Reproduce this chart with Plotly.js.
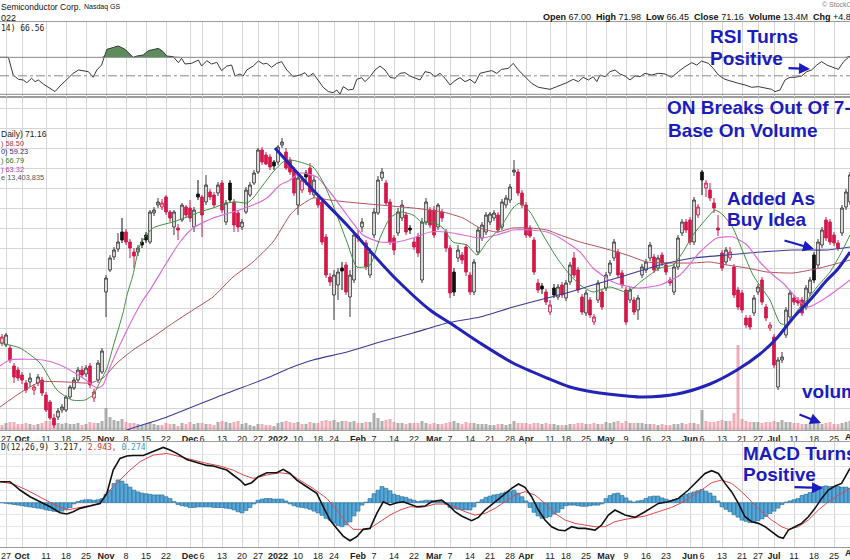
<!DOCTYPE html>
<html>
<head>
<meta charset="utf-8">
<script src="https://cdn.plot.ly/plotly-3.0.1.min.js"></script>
<style>
html,body{margin:0;padding:0;background:#fff;}
#chart{width:850px;height:560px;}
</style>
</head>
<body>
<div id="chart"></div>
<script>
// ---------------- DATA (trading-day index 0 = Mon 27 Sep 2021) ----------------
const FIRST_DAY = -2;

const openP = [
50.6,50.5,50.3,50.0,48.2,47.8,47.3,46.5,46.6,45.8,
46.5,46.8,45.3,44.6,43.0,43.1,43.8,43.8,45.1,46.0,
46.8,47.8,47.4,48.2,45.0,46.8,47.6,55.6,57.8,59.1,
59.9,61.6,61.6,60.6,59.6,59.6,60.6,61.3,60.6,63.5,
64.3,64.1,65.1,63.6,62.1,62.0,62.8,64.1,64.0,62.1,
65.4,65.1,64.6,65.6,65.3,65.5,66.5,62.6,66.5,64.6,
63.5,62.1,63.6,65.3,66.5,67.6,69.8,69.3,69.1,68.6,
68.6,70.3,69.6,68.8,67.8,64.3,65.8,67.5,68.0,65.3,
65.0,64.6,61.1,57.1,55.3,56.3,58.0,58.3,55.1,56.8,
61.0,62.1,60.5,57.3,61.3,63.5,67.0,66.5,64.6,61.0,
61.5,63.0,63.3,62.0,60.6,61.1,56.8,62.6,63.8,63.8,
62.1,63.6,61.6,60.0,57.6,59.0,59.3,60.1,57.3,55.6,
59.6,61.0,61.6,62.6,63.0,63.3,62.1,64.3,64.8,67.6,
67.6,65.5,64.3,62.0,60.8,56.5,56.2,55.6,53.6,56.0,
55.1,56.3,55.0,56.6,59.0,57.8,55.1,53.5,54.8,52.6,
54.8,55.6,56.0,57.5,59.0,59.6,57.5,55.8,54.8,54.8,
53.8,57.3,57.8,59.0,59.1,58.0,59.3,58.3,56.8,55.6,
58.1,61.5,62.6,62.8,60.6,63.3,67.6,66.0,65.8,64.5,
62.0,59.5,58.6,59.0,58.1,55.8,55.5,53.0,53.0,53.5,
55.6,56.8,54.1,52.0,51.1,46.1,48.8,51.3,53.1,55.0,
54.8,54.8,54.1,55.5,59.3,58.3,60.3,62.8,62.6,61.3,
60.5,61.5,64.1,64.6];
const highP = [
51.6,51.4,51.5,50.3,48.5,48.1,47.6,46.8,47.5,46.4,
47.4,47.1,45.6,44.8,43.4,44.0,44.4,45.3,46.3,47.1,
48.1,48.2,48.3,48.5,45.9,48.8,50.0,57.3,59.3,60.1,
61.5,63.0,61.9,60.9,60.0,60.3,61.0,61.6,63.8,64.1,
65.0,64.9,65.3,63.8,63.8,62.4,64.5,64.3,64.8,64.1,
66.8,65.3,67.3,65.9,65.6,66.6,66.8,64.8,66.8,64.9,
63.8,62.9,66.1,66.6,67.8,70.0,70.1,69.6,69.4,68.8,
70.3,71.0,70.0,69.1,68.1,67.3,67.2,67.8,68.5,67.2,
65.3,64.9,61.4,57.5,57.8,58.0,58.6,58.6,57.8,61.6,
61.8,63.0,60.8,60.0,64.0,67.2,68.0,66.8,64.9,61.3,
64.0,64.8,63.6,62.3,61.0,61.5,63.0,65.0,64.1,64.2,
64.5,63.9,61.9,60.3,58.0,60.3,59.6,60.4,57.6,58.9,
62.1,62.6,63.6,63.6,63.8,63.6,64.9,65.3,66.4,68.8,
67.9,65.8,64.6,62.3,61.1,56.9,56.5,55.9,54.8,56.4,
56.4,56.6,56.8,58.6,59.6,58.1,55.4,55.8,55.1,53.4,
56.8,55.9,57.6,58.8,60.9,59.9,57.8,56.1,56.1,55.1,
55.3,58.4,58.9,60.6,59.4,59.3,59.6,58.6,57.1,58.4,
61.3,62.9,62.9,63.1,65.1,64.4,67.8,66.8,66.5,65.0,
63.3,59.8,60.1,60.1,58.4,56.1,55.8,53.3,53.3,55.3,
56.4,57.1,54.4,52.6,51.4,49.1,49.6,54.1,55.8,55.3,
55.1,55.1,56.3,57.1,59.6,60.9,62.1,63.1,62.9,61.6,
60.8,64.3,65.9,67.6];
const lowP = [
50.3,50.2,50.1,48.5,46.5,46.7,46.4,45.5,46.1,45.3,
46.2,45.2,43.6,42.8,42.0,42.8,43.5,43.6,44.9,45.8,
46.6,47.0,47.1,46.0,44.6,46.5,47.4,53.1,57.6,58.8,
59.6,60.5,60.3,59.0,58.0,59.2,60.0,60.5,60.4,63.2,
64.0,63.8,63.3,62.6,61.3,60.8,62.6,63.0,62.6,61.6,
64.8,61.1,64.3,64.8,64.0,65.2,63.5,62.3,64.5,61.6,
61.6,61.8,63.4,65.1,66.3,67.4,68.3,68.3,67.8,67.8,
68.3,70.0,67.8,67.3,65.2,63.3,65.5,66.3,65.3,65.0,
64.0,60.3,57.0,56.2,52.8,54.8,55.8,55.3,53.1,56.5,
60.6,61.6,57.8,57.0,61.0,63.3,66.7,64.2,60.3,59.3,
61.2,62.7,61.3,61.4,59.8,59.1,56.5,62.3,62.0,61.0,
61.8,62.6,59.6,55.0,55.2,58.6,58.4,57.2,55.3,55.3,
59.3,60.7,61.3,62.3,62.7,61.5,61.8,64.0,64.5,67.2,
65.2,64.0,61.0,61.0,57.3,55.5,55.4,54.3,53.3,55.0,
54.8,55.0,54.7,56.3,57.0,55.5,53.3,53.2,53.0,52.3,
54.5,53.8,55.7,57.2,58.7,57.0,56.0,52.3,54.5,53.3,
52.8,57.0,57.5,58.7,57.5,57.7,58.2,57.3,56.2,55.3,
57.8,61.2,61.5,60.3,60.3,63.0,65.3,65.1,64.7,63.5,
61.2,57.7,58.3,58.7,55.0,53.8,53.5,52.0,51.8,53.2,
55.3,54.3,52.7,51.7,48.0,45.8,48.5,51.0,52.8,54.3,
54.2,53.2,53.8,55.2,56.5,58.0,60.0,60.7,60.3,60.2,
59.7,61.2,63.8,64.3];
const closeP = [
51.3,51.1,51.3,48.8,47.1,47.0,46.8,45.8,47.0,46.1,
47.1,45.5,43.8,43.0,42.3,43.7,44.1,45.1,46.1,46.8,
47.8,47.3,48.0,46.3,45.6,48.5,49.7,57.0,59.0,59.8,
60.6,60.8,60.6,60.0,59.2,60.0,60.3,60.8,63.6,63.8,
64.6,64.5,63.6,63.0,63.6,61.8,64.3,63.3,63.0,63.8,
65.1,63.3,66.3,65.1,64.3,66.3,63.8,64.5,64.8,62.3,
62.1,62.6,65.8,66.3,67.5,69.8,68.6,68.4,68.1,68.2,
70.1,70.6,68.0,67.6,65.5,67.0,66.8,67.1,65.6,66.8,
64.3,60.6,57.3,56.6,57.3,57.6,57.7,55.6,57.3,61.3,
61.2,62.6,58.1,59.6,63.6,66.8,67.6,64.5,60.6,59.8,
63.6,64.3,61.6,61.8,60.1,59.5,62.6,64.6,62.3,61.3,
64.3,63.0,60.0,55.5,55.6,59.8,58.8,57.6,55.6,58.6,
61.8,62.3,63.3,63.4,63.5,61.8,64.6,65.0,66.1,67.8,
65.5,64.3,61.3,61.2,57.6,55.8,55.9,54.6,54.3,55.3,
56.1,55.3,56.5,58.3,57.3,55.8,53.6,55.5,53.3,53.1,
56.5,54.1,57.3,58.5,60.6,57.3,56.3,52.6,55.8,53.6,
55.0,58.1,58.6,60.3,57.8,59.0,58.5,57.6,56.5,58.1,
61.0,62.6,61.8,60.6,64.8,64.1,66.8,66.5,65.0,64.0,
61.8,58.0,59.8,59.6,55.3,54.1,53.8,52.3,52.1,55.0,
56.1,54.6,53.0,52.3,48.3,48.8,49.1,53.8,55.5,54.6,
54.5,53.5,56.0,56.8,56.8,60.6,61.8,61.0,60.6,60.5,
60.0,64.0,65.6,67.3];
// volume, millions of shares
const volume = [
6,5,7,8,8,6,6, 7,6,5,6,7, 9,9,10,7,6, 7,6,6,7,5, 6,8,7,7,9,
22,13,10,9,11, 8,7,7,6,5, 6,8,6,5,5, 7,6,6,4, 7,6,8,6,7,
7,6,6,5,8, 9,8,7,8,9, 6,7,5,4, 6,6,5,5,4, 7,8,9,8,7,
8,6,6,8,7, 7,9,10,9, 10,8,9,9,8, 9,7,7,8,8, 17,12,9,10,11,
8,7,7,6,7, 7,7,9,7, 6,7,6,6,7, 8,9,7,6,8, 7,7,6,6,6,
5,5,6,6,5, 6,9,7,7,7, 6,7,7,6,7, 6,6,5,5, 5,6,6,7,7,
6,6,7,6,6, 8,7,8,9,7, 9,7,7,7,7, 6,6,6,5,6, 5,5,6,6,7,
6,7,7,6, 20,9,8,8,9, 10,9,9,17,85, 11,9,8,8, 8,7,8,8,9,
8,10,8,8, 7,7,6,6,6, 7,7,6,7,8, 6,6,7,8,9];
// MACD histogram (12,26,9), one value per day
const macdHist = [
0,0,-0.05,-0.1,-0.15,-0.2,-0.25,-0.3,-0.35,-0.4,
-0.45,-0.5,-0.6,-0.65,-0.72,-0.75,-0.7,-0.55,-0.4,-0.1,
0.1,0.2,0.25,0.25,0.2,0.25,0.35,0.7,1.05,1.6,
1.9,1.8,1.55,1.3,1.05,0.9,0.8,0.75,0.7,0.65,
0.65,0.65,0.5,0.35,0.1,-0.15,-0.25,-0.3,-0.4,-0.4,
-0.35,-0.35,-0.35,-0.35,-0.4,-0.4,-0.4,-0.45,-0.5,-0.6,
-0.75,-0.85,-0.65,-0.4,-0.1,0.2,0.3,0.35,0.35,0.3,
0.3,0.3,0.15,-0.1,-0.25,-0.35,-0.4,-0.45,-0.55,-0.7,
-0.85,-1.05,-1.3,-1.45,-1.7,-1.9,-2.0,-1.85,-1.6,-1.1,
-0.7,-0.2,0.05,0.35,0.75,1.05,1.35,1.2,1.0,0.7,
0.6,0.5,0.45,0.3,0.2,0.1,0.15,0.2,0.2,0.15,
0.2,0.15,-0.1,-0.4,-0.5,-0.55,-0.6,-0.6,-0.6,-0.35,
0.05,0.25,0.45,0.55,0.65,0.7,0.8,0.9,0.95,1.05,
0.8,0.5,0.15,-0.4,-0.8,-1.1,-1.3,-1.25,-1.15,-0.95,
-0.8,-0.5,-0.25,-0.2,-0.2,-0.25,-0.3,-0.3,-0.25,-0.2,
-0.2,-0.1,0.35,0.6,0.75,0.8,0.6,0.4,0.15,0.05,
0.15,0.2,0.35,0.5,0.55,0.55,0.4,0.3,0.2,0.25,
0.35,0.55,0.7,0.8,0.9,1.0,1.1,0.95,0.8,0.55,
0.15,-0.35,-0.55,-0.75,-1.0,-1.2,-1.45,-1.55,-1.65,-1.6,
-1.5,-1.35,-1.15,-0.9,-0.7,-0.45,-0.15,0.05,0.15,0.25,
0.35,0.6,0.7,0.85,0.95,1.1,1.35,1.4,1.35,1.35,
1.35,1.3,1.3,1.2];

// lines: [day index, value]
const maShort = [[-1.5,50.5],[3.5,50.0],[8.5,48.5],[12.75,45.8],[16.5,44.8],[19.75,44.8],[21.75,45.3],[23.5,46.6],[25.25,48.0],[26.75,50.1],[29.25,53.5],[30.25,55.3],[31.75,57.3],[33.5,60.3],[36.75,62.0],[41.75,62.6],[45.25,63.1],[48.5,63.6],[51.75,64.0],[55.25,64.5],[57.75,64.6],[60.25,64.5],[61.75,65.0],[64.25,66.3],[66.75,67.6],[69.25,68.6],[71,68.8],[73.5,68.6],[76.75,68.1],[79.25,66.6],[81.75,64.3],[85.25,60.6],[87.75,58.1],[91,58.3],[93.5,61.0],[96,63.0],[98.5,63.6],[101.75,63.3],[104.25,62.5],[106.75,62.6],[109.25,62.0],[111.75,60.6],[115.25,60.3],[117.75,59.3],[120.25,60.6],[123.5,62.0],[126.75,64.0],[128.5,64.5],[131,63.6],[134.25,61.3],[137.75,59.0],[141,57.3],[143.5,56.3],[146.75,55.6],[151,56.1],[155.25,55.6],[159.25,56.8],[163.5,58.0],[166.75,58.3],[169.25,59.6],[171.75,61.3],[175.25,63.0],[177.25,63.8],[179.25,63.3],[181.75,62.0],[184.25,59.6],[186.75,57.3],[189.25,55.8],[191,54.8],[193.5,52.5],[195.25,52.3],[196.75,53.1],[198.5,54.1],[200.25,54.8],[202.75,56.1],[206,57.6],[208.5,59.3],[211,61.3]];
const maMid = [[-1.5,48.2],[1,48.8],[9.25,48.8],[13.5,48.3],[19.25,47.0],[22.75,46.0],[24.25,46.3],[26,48.1],[30.25,51.8],[34.25,54.8],[36,55.8],[40.25,58.6],[43.5,60.6],[46.75,62.0],[51.75,63.0],[56.75,63.6],[61.75,64.3],[65.25,65.0],[68.5,66.3],[71,66.8],[73.5,67.5],[77.75,67.1],[81,65.6],[85.25,63.3],[89.25,61.3],[93.5,60.6],[97.75,60.6],[101.75,61.0],[106,61.6],[110.25,61.6],[114.25,61.3],[118.5,61.0],[122.75,61.3],[126.75,61.8],[131,61.8],[135.25,61.6],[138.5,61.0],[143.5,59.6],[146.75,58.0],[151.75,56.6],[157.75,56.0],[163.5,56.3],[168.5,57.3],[173.5,59.6],[177.75,61.0],[181.75,61.1],[185.25,60.3],[188.5,58.6],[191.75,57.3],[194.25,56.5],[200.25,54.1],[205.25,55.1],[211,56.8]];
const maLong = [[-1.5,44.1],[3.5,45.5],[8.5,46.6],[15.25,46.6],[21,46.5],[24.25,47.0],[27.75,48.5],[31.75,49.8],[36.75,51.1],[41.75,52.5],[46.75,53.8],[51.75,55.1],[56.75,57.1],[61.75,58.6],[66.75,60.6],[71,63.3],[72.75,64.0],[76.75,65.0],[81,64.8],[85.25,64.6],[93.5,64.3],[101.75,64.0],[106,63.8],[110.25,63.5],[114.25,63.0],[118.5,62.0],[122.75,61.6],[126.75,62.0],[131,62.0],[135.25,61.8],[138.5,61.3],[143.5,60.6],[149.25,60.0],[155.25,59.3],[160.25,58.6],[165.25,58.5],[171.75,58.5],[176,58.6],[180.25,58.3],[185.25,58.0],[190.25,57.6],[196.75,57.5],[203.5,58.0],[211,58.8]];
const ma200 = [[26,41.1],[30.25,41.8],[40.25,43.1],[52.75,45.1],[65.25,47.0],[71,48.0],[76.75,48.8],[85.25,49.6],[93.5,50.6],[101.75,51.5],[110.25,52.5],[118.5,53.1],[126.75,54.1],[135.25,55.0],[141,55.6],[146.75,56.3],[155.25,57.3],[163.5,58.3],[171.75,59.0],[180.25,59.3],[188.5,59.6],[196.75,59.8],[205.25,59.8],[211,60.1]];
const cupPts = [[67.25,70.0],[76.75,65.8],[85.25,62.3],[93.5,58.6],[97.75,56.8],[106,53.8],[111.75,52.3],[118.5,50.5],[126.75,48.5],[135.25,47.0],[141,46.1],[146.75,45.6],[155.25,45.2],[159.25,45.1],[167.75,45.4],[176,46.4],[182.75,47.8],[188.5,49.4],[192.75,51.0],[196.75,53.0],[201,54.8],[205.25,56.8],[207.75,57.8],[211,59.6]];
const rsiPts = [[-1.5,70.0],[0.6,70.0],[1.8,50.9],[3.1,46.2],[4.3,45.5],[5.2,42.6],[6.4,47.3],[7.25,43.7],[8.1,45.5],[9.3,41.2],[11,36.5],[12.25,32.9],[13.5,39.0],[15.2,45.5],[16.8,52.7],[18.1,56.3],[19.75,55.2],[20.6,54.5],[21.8,48.4],[22.7,56.3],[23.9,61.7],[24.75,72.5],[25.2,78.6],[28.1,82.3],[29.75,78.6],[31.8,70.0],[32.7,71.4],[34.3,72.5],[35.6,77.2],[38.1,79.7],[39.3,76.1],[40.2,71.4],[41.8,70.7],[43.1,64.2],[43.9,68.9],[44.75,62.8],[46.4,63.5],[48.1,67.1],[48.9,60.6],[50.2,66.4],[51.4,62.8],[52.7,64.6],[53.9,55.6],[55.2,60.6],[56.4,61.7],[57.25,49.8],[58.5,52.0],[59.3,49.8],[60.2,56.3],[61.8,60.6],[63.1,66.0],[64.3,62.8],[65.2,63.5],[66.4,59.2],[67.7,63.5],[68.9,65.3],[70.2,56.3],[71.8,49.1],[73.5,50.9],[74.75,53.4],[75.6,49.1],[76.8,52.7],[78.1,45.5],[79.3,37.6],[80.6,32.9],[81.8,31.8],[82.7,34.7],[83.5,30.0],[84.3,38.3],[85.6,34.7],[86.8,35.4],[87.7,46.2],[88.9,48.0],[89.75,43.7],[91,49.1],[92.25,56.3],[93.5,60.6],[94.75,56.3],[96,48.4],[97.25,47.3],[98.5,52.7],[99.75,53.4],[101,49.8],[102.25,47.3],[103.5,45.5],[104.75,54.5],[106,53.4],[107.25,49.1],[108.5,52.7],[109.75,47.3],[111,40.1],[112.25,44.8],[113.5,48.0],[114.75,43.7],[116,46.2],[117.25,41.9],[118.5,52.7],[120.2,54.5],[121.4,55.6],[122.7,52.7],[123.9,57.0],[125.6,58.1],[126.8,63.5],[128.1,56.3],[129.75,49.1],[131.4,41.9],[133.1,37.6],[134.75,36.5],[136,35.4],[137.7,38.3],[138.9,40.1],[140.2,42.6],[141.8,46.2],[143.1,43.7],[144.3,48.4],[145.6,45.5],[146.8,49.1],[147.7,43.7],[148.5,50.9],[149.75,49.1],[151,54.5],[152.25,56.3],[153.5,52.0],[154.75,49.8],[156,45.5],[157.25,49.8],[158.5,49.1],[159.75,52.7],[161.4,50.9],[163.1,52.7],[164.75,52.0],[166.4,48.4],[168.1,54.5],[169.75,59.9],[171.4,64.2],[172.7,61.7],[173.9,66.0],[175.6,63.5],[176.8,58.1],[178.1,50.9],[179.75,46.2],[181.4,43.7],[183.1,41.9],[184.75,40.1],[186.4,37.6],[188.1,38.3],[189.75,36.5],[191.4,35.4],[192.25,32.9],[193.5,34.7],[194.75,45.5],[196,48.4],[197.25,48.4],[198.9,49.8],[200.2,54.5],[201.4,56.3],[202.7,61.7],[203.9,65.3],[205.2,61.7],[206.4,59.9],[208.1,57.0],[209.4,65.3],[211,71.4]];
const macdPts = [[-1.5,1.75],[1,1.75],[3.5,1.06],[6,0.5],[8.5,0.08],[11,-0.33],[13.5,-0.83],[15.2,-0.94],[16.8,-0.75],[18.5,-0.47],[21,-0.28],[23.5,-0.06],[25.2,0.78],[26.8,2.72],[28.5,3.69],[30.2,3.89],[31.8,3.94],[34.3,3.94],[36,4.17],[37.7,4.39],[39.3,4.61],[41,4.39],[42.7,4.11],[45.2,3.61],[47.7,3.33],[50.2,3.11],[51.8,3.06],[53.5,2.86],[55.2,2.72],[56.8,2.31],[58.5,1.89],[59.75,1.47],[61.4,1.67],[63.1,2.17],[65.2,2.5],[67.7,2.5],[69.3,2.78],[71,2.44],[72.7,1.89],[75.2,1.33],[77.7,0.78],[79.3,-0.33],[81,-1.44],[82.7,-2.14],[84.3,-2.78],[86,-3.17],[87.7,-2.83],[89.3,-2.22],[91,-2.14],[92.7,-0.89],[94.3,0.08],[96,-0.19],[97.7,0.0],[99.3,0.08],[101,-0.11],[102.7,-0.33],[104.75,-0.28],[106.4,0.08],[108.9,0.22],[110.6,-0.19],[112.25,-0.75],[113.9,-1.11],[116.4,-1.5],[118.1,-1.22],[119.75,-0.61],[121.4,-0.19],[123.9,0.5],[126.4,1.19],[128.1,1.56],[129.75,1.28],[131.4,0.5],[133.1,-0.61],[134.75,-1.44],[136.4,-2.0],[138.1,-2.28],[139.75,-2.33],[141.4,-2.0],[143.1,-2.14],[144.75,-2.14],[147.25,-2.28],[148.9,-1.86],[150.6,-1.03],[152.25,-0.61],[154.75,-1.03],[157.25,-1.22],[159.75,-0.75],[163.1,-0.06],[165.6,0.08],[168.1,0.36],[170.6,1.06],[173.1,1.89],[174.75,2.44],[176.4,2.67],[178.1,2.44],[179.75,1.61],[181.4,0.92],[183.1,-0.06],[184.75,-1.17],[186.4,-1.58],[188.1,-1.72],[189.75,-2.0],[191.4,-2.42],[193.1,-2.83],[194.3,-2.97],[195.6,-2.28],[197.25,-2.0],[198.9,-1.72],[200.6,-1.17],[202.25,-0.47],[203.9,0.36],[205.6,1.06],[207.25,1.39],[208.9,1.61],[211,2.86]];
const signalPts = [[-1.5,1.75],[1.8,1.56],[5.2,1.06],[8.5,0.5],[11.8,-0.11],[15.2,-0.61],[18.5,-0.39],[21.8,-0.19],[23.5,-0.06],[26,1.06],[28.5,1.89],[31,2.72],[33.5,3.42],[36.8,3.97],[40.2,4.11],[43.5,3.83],[46.8,3.56],[50.2,3.28],[53.5,3.06],[56.8,2.72],[59.3,2.31],[61.8,2.03],[65.2,2.31],[68.5,2.5],[71,2.39],[73.5,1.89],[76.8,1.19],[80.2,0.36],[82.7,-0.61],[85.2,-1.72],[86.8,-2.22],[89.3,-2.22],[91,-2.14],[93.5,-1.58],[96,-1.03],[98.5,-0.61],[101,-0.33],[103.5,-0.39],[104.75,-0.33],[107.25,-0.11],[109.75,-0.11],[112.25,-0.33],[114.75,-0.75],[117.25,-1.03],[119.75,-0.89],[122.25,-0.47],[124.75,0.08],[127.25,0.64],[129.75,0.92],[132.25,0.64],[134.75,-0.06],[137.25,-0.89],[139.75,-1.44],[142.25,-1.72],[144.75,-1.86],[147.25,-2.0],[149.75,-2.0],[152.25,-1.58],[154.75,-1.39],[157.25,-1.22],[159.75,-1.11],[163.1,-0.75],[166.4,-0.39],[168.9,0.0],[171.4,0.5],[173.9,1.06],[176.4,1.67],[178.9,1.89],[181.4,1.61],[183.9,0.92],[186.4,0.08],[188.9,-0.75],[191.4,-1.44],[193.9,-2.0],[195.6,-2.22],[198.1,-2.0],[200.6,-1.44],[203.1,-0.61],[205.6,0.08],[208.1,0.64],[211,1.19]];

// x-axis ticks (trading-day index of each labelled day)
const tickDays = [0,4,10,15,20,25,30,35,40,46,49,54,59,63,68,73,78,82,88,92,97,102,107,111,116,121,126,130,136,140,145,150,155,160,165,171,174,179,184,188,192,197,202,207];
const tickLabels = ['27','<b>Oct</b>','11','18','25','<b>Nov</b>','8','15','22','<b>Dec</b>','6','13','20','27','<b>2022</b>','10','18','24','<b>Feb</b>','7','14','22','<b>Mar</b>','7','14','21','28','<b>Apr</b>','11','18','25','<b>May</b>','9','16','23','<b>Jun</b>','6','13','21','27','<b>Jul</b>','11','18','25'];

// ---------------- BUILD ----------------
const W = 850, H = 560;
const px = x => x / W, py = y => 1 - y / H;
const BLUE = '#1c1cbe';
const FONT = 'Liberation Sans, Arial, sans-serif';
const MONO = 'DejaVu Sans Mono, Liberation Mono, monospace';

const n = Math.min(openP.length, highP.length, lowP.length, closeP.length);
const days = [];
for (let k = 0; k < n; k++) days.push(k + FIRST_DAY);

const up = {x:[],open:[],high:[],low:[],close:[]};
const dn = {x:[],open:[],high:[],low:[],close:[]};
for (let k = 0; k < n; k++) {
  const prev = k > 0 ? closeP[k-1] : openP[k];
  const t = closeP[k] >= prev ? up : dn;
  t.x.push(days[k]); t.open.push(openP[k]); t.high.push(highP[k]); t.low.push(lowP[k]); t.close.push(closeP[k]);
}
const volColors = days.map((d,k) => (k === 0 || closeP[k] >= closeP[k-1]) ? 'rgba(145,145,145,0.72)' : 'rgba(230,125,140,0.62)');

const lineTrace = (pts, color, width, xa, ya, extra) => Object.assign({
  type:'scatter', mode:'lines', x: pts.map(p=>p[0]), y: pts.map(p=>p[1]),
  xaxis: xa, yaxis: ya, line:{color:color, width:width}, hoverinfo:'skip'
}, extra || {});

const traces = [];
// volume (base axis of the price panel)
traces.push({type:'bar', x: days, y: volume.slice(0,n), xaxis:'x', yaxis:'y', width:0.75,
  marker:{color: volColors, line:{width:0}}, hoverinfo:'skip'});
// moving averages
traces.push(lineTrace(maLong, '#b5505a', 1, 'x', 'y2', {line:{color:'#b5505a', width:1, shape:'spline', smoothing:0.5}}));
traces.push(lineTrace(ma200, '#3b3b94', 1, 'x', 'y2', {line:{color:'#3b3b94', width:1.1, shape:'spline', smoothing:0.5}}));
traces.push(lineTrace(maMid, '#dd6ddd', 1, 'x', 'y2', {line:{color:'#dd6ddd', width:1.2, shape:'spline', smoothing:0.6}}));
traces.push(lineTrace(maShort, '#3f8f3f', 1, 'x', 'y2', {line:{color:'#3f8f3f', width:1, shape:'spline', smoothing:0.6}}));
// candles
traces.push(Object.assign({type:'candlestick', xaxis:'x', yaxis:'y2', whiskerwidth:0, hoverinfo:'skip',
  increasing:{line:{color:'#3a3a3a', width:1}, fillcolor:'#ffffff'},
  decreasing:{line:{color:'#111111', width:1}, fillcolor:'#111111'}}, up));
traces.push(Object.assign({type:'candlestick', xaxis:'x', yaxis:'y2', whiskerwidth:0, hoverinfo:'skip',
  increasing:{line:{color:'#d4184a', width:1}, fillcolor:'#ffffff'},
  decreasing:{line:{color:'#d4184a', width:1}, fillcolor:'#d4184a'}}, dn));
// cup annotation line
traces.push(lineTrace(cupPts, '#2323b8', 3, 'x', 'y2', {line:{color:'#2323b8', width:3, shape:'spline', smoothing:0.8}}));

// RSI panel
const rsiX = rsiPts.map(p=>p[0]);
traces.push({type:'scatter', mode:'lines', x: rsiX, y: rsiX.map(()=>70), xaxis:'x2', yaxis:'y3', line:{width:0, color:'rgba(0,0,0,0)'}, hoverinfo:'skip'});
traces.push({type:'scatter', mode:'lines', x: rsiX, y: rsiPts.map(p=>Math.max(p[1],70)), xaxis:'x2', yaxis:'y3', fill:'tonexty', fillcolor:'#5d8c5d', line:{width:0, color:'rgba(0,0,0,0)'}, hoverinfo:'skip'});
traces.push(lineTrace(rsiPts, '#3a3a3a', 1, 'x2', 'y3'));

// MACD panel
traces.push({type:'bar', x: days, y: macdHist.slice(0,n), xaxis:'x3', yaxis:'y4', width:1,
  marker:{color:'#55a6d6', line:{color:'#2a6b96', width:0.6}}, hoverinfo:'skip'});
traces.push(lineTrace(signalPts, '#e04848', 1, 'x3', 'y4'));
traces.push(lineTrace(macdPts, '#111111', 1.6, 'x3', 'y4'));

// ---------------- LAYOUT ----------------
const axisX = {
  range:[-1.5, 211], showgrid:true, gridcolor:'#d6d6d6', gridwidth:1,
  tickmode:'array', tickvals: tickDays, ticktext: tickLabels, tickangle:0, ticks:'',
  tickfont:{size:9, color:'#222', family:FONT}, showline:true, mirror:true,
  linecolor:'#9c9c9c', linewidth:1, zeroline:false, fixedrange:true
};

const ann = [];
const T = (text, x, y, size, color, opts) => ann.push(Object.assign({
  text:text, x:px(x), y:py(y), xref:'paper', yref:'paper', xanchor:'left', yanchor:'middle',
  showarrow:false, borderpad:0, font:{size:size, color:color, family:FONT}
}, opts || {}));
const A = (x0, y0, x1, y1) => ann.push({
  x:px(x1), y:py(y1), xref:'paper', yref:'paper', ax:x0-x1, ay:y0-y1, axref:'pixel', ayref:'pixel',
  showarrow:true, text:'', arrowhead:2, arrowsize:1, arrowwidth:2.2, arrowcolor:BLUE
});

// header
T('Semiconductor Corp.', 0, 7, 8.5, '#111');
T('Nasdaq GS', 83, 7.5, 7, '#111');
T('022', 0, 18, 9, '#111');
T('14) 66.56', 0, 28, 8, '#222', {font:{size:8, color:'#222', family:MONO}});
T('<b>Open</b> 67.00  <b>High</b> 71.98  <b>Low</b> 66.45  <b>Close</b> 71.16  <b>Volume</b> 13.4M  <b>Chg</b> +4.80 (+7.23%)', 542, 17, 9, '#111');
T('© StockCharts.com', 821, 5, 7, '#808080');
// price legend
T('Daily) 71.16', 0, 134, 8.5, '#222');
T(') 58.50', 0, 143, 7.4, '#b0384a');
T('0) 59.23', 0, 151.7, 7.4, '#2b2b7a');
T(') 66.79', 0, 160.4, 7.4, '#2e7a2e');
T(') 63.32', 0, 169.1, 7.4, '#c03cc0');
T('e 13,403,835', 0, 177.8, 7.4, '#555');
// macd legend
T('D(12,26,9) 3.217, <span style="color:#d03030">2.943,</span> <span style="color:#3a9ac0">0.274</span>', 0, 447.5, 8, '#222', {font:{size:8, color:'#222', family:MONO}});
// cropped August labels
T('<b>Aug</b>', 854, 437, 9, '#222', {xanchor:'center'});
T('<b>Aug</b>', 854, 553, 9, '#222', {xanchor:'center'});
// blue commentary
const BF = 19;
T('<b>RSI Turns</b>', 709, 36, BF, BLUE);
T('<b>Positive</b>', 709, 59, BF, BLUE);
T('<b>ON Breaks Out Of 7-Month</b>', 666, 108, BF, BLUE);
T('<b>Base On Volume</b>', 667, 130, BF, BLUE);
T('<b>Added As</b>', 726, 198, BF, BLUE);
T('<b>Buy Idea</b>', 726, 220, BF, BLUE);
T('<b>volume</b>', 801, 391, BF, BLUE);
T('<b>MACD Turns</b>', 742, 453, BF, BLUE);
T('<b>Positive</b>', 742, 474, BF, BLUE);
A(787, 68, 810, 69);
A(783, 240, 814, 249);
A(798, 414, 821, 423);
A(793, 487, 823, 488);

const layout = {
  width:W, height:H, margin:{l:0, r:0, t:0, b:0},
  paper_bgcolor:'#ffffff', plot_bgcolor:'#ffffff',
  showlegend:false, hovermode:false, boxgap:0.08,
  font:{family:FONT, size:9, color:'#222'},
  xaxis: Object.assign({}, axisX, {anchor:'y', domain:[0,1], rangeslider:{visible:false}}),
  yaxis: {domain:[py(430), py(97)], range:[0,333], showgrid:false, showticklabels:false, zeroline:false, ticks:'', fixedrange:true},
  yaxis2: {overlaying:'y', anchor:'x', range:[41.8,75.1], dtick:2, tick0:0, showgrid:true, gridcolor:'#d6d6d6',
           showticklabels:false, zeroline:false, ticks:'', fixedrange:true},
  xaxis2: Object.assign({}, axisX, {anchor:'y3', domain:[0,1], matches:'x', showticklabels:false}),
  yaxis3: {domain:[py(97), py(22)], range:[27.1,108.2], showgrid:false, showticklabels:false, zeroline:false, ticks:'', fixedrange:true},
  xaxis3: Object.assign({}, axisX, {anchor:'y4', domain:[0,1], matches:'x'}),
  yaxis4: {domain:[py(547), py(442)], range:[-3.69,5.06], dtick:1, tick0:0, showgrid:true, gridcolor:'#e6e6e6',
           showticklabels:false, zeroline:false, ticks:'', fixedrange:true},
  shapes: [
    {type:'line', xref:'paper', x0:0, x1:1, yref:'y3', y0:70, y1:70, line:{color:'#8a8a8a', width:1}},
    {type:'line', xref:'paper', x0:0, x1:1, yref:'y3', y0:50, y1:50, line:{color:'#8a8a8a', width:1, dash:'dashdot'}},
    {type:'line', xref:'paper', x0:0, x1:1, yref:'y3', y0:30, y1:30, line:{color:'#8a8a8a', width:1}}
  ],
  annotations: ann
};

Plotly.newPlot('chart', traces, layout, {staticPlot:true, displayModeBar:false});
</script>
</body>
</html>
